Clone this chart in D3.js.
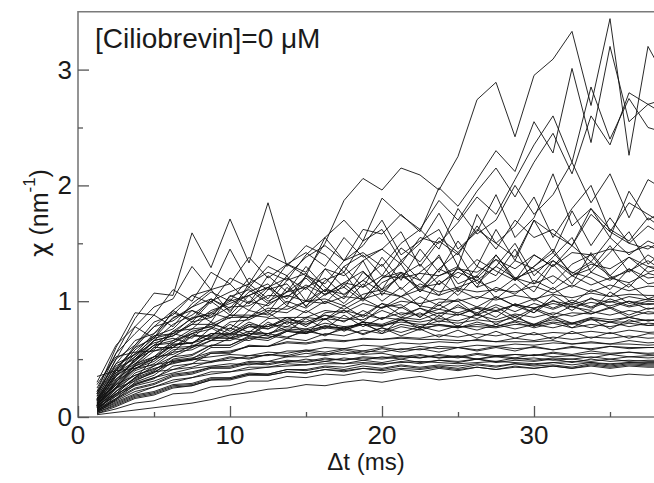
<!DOCTYPE html>
<html>
<head>
<meta charset="utf-8">
<script src="https://cdn.jsdelivr.net/npm/d3@7"></script>
<style>
  html, body { margin: 0; padding: 0; background: #fff; }
  svg { display: block; font-family: "Liberation Sans", Arial, Helvetica, sans-serif; }
</style>
</head>
<body>
<svg id="chart" width="654" height="483"></svg>
<script>
// Time lags (ms)
const dt = [1.25,2.5,3.75,5,6.25,7.5,8.75,10,11.25,12.5,13.75,15,16.25,17.5,18.75,20,21.25,22.5,23.75,25,26.25,27.5,28.75,30,31.25,32.5,33.75,35,36.25,37.5,38.75];

// High, strongly fluctuating trajectories
const highSeries = [
  [0.20,0.55,0.85,1.07,1.05,1.59,1.29,1.71,1.33,1.85,1.30,1.48,1.40,1.25,1.52,1.62,1.35,1.50,1.76,1.45,1.60,1.92,1.55,1.72,2.10,1.65,1.80,1.55,1.95,1.70,1.80],
  [0.12,0.35,0.55,0.72,0.85,0.95,1.08,1.00,1.20,1.10,1.32,1.25,1.50,1.87,2.06,1.96,2.15,2.09,1.96,2.25,2.74,2.89,2.42,2.95,3.09,3.33,2.69,3.44,2.26,3.20,2.90],
  [0.15,0.40,0.62,0.78,0.92,1.05,0.98,1.20,1.12,1.30,1.22,1.38,1.48,1.35,1.62,1.58,1.75,1.60,1.98,1.82,2.05,2.30,2.12,2.55,2.28,3.01,2.37,3.20,2.55,2.70,2.60],
  [0.10,0.30,0.50,0.66,0.80,0.88,1.00,1.08,1.15,1.25,1.18,1.40,1.55,1.70,1.52,1.89,1.74,1.62,1.87,1.70,1.95,2.15,1.90,2.20,2.45,2.10,2.60,2.35,2.80,2.70,2.75],
  [0.08,0.28,0.45,0.60,0.72,0.80,0.92,0.98,1.05,1.12,1.02,1.22,1.15,1.35,1.42,1.30,1.50,1.62,1.45,1.80,1.58,1.70,2.00,1.75,1.92,2.20,1.85,2.10,1.72,2.05,1.95],
  [0.18,0.50,0.78,0.95,1.02,1.30,1.10,1.45,1.15,1.40,1.32,1.22,1.55,1.35,1.48,1.70,1.40,1.52,1.62,1.30,1.75,1.50,1.65,1.90,1.55,1.80,2.00,1.60,1.85,1.75,1.65],
  [0.10,0.32,0.50,0.62,0.74,0.85,0.90,1.00,1.05,1.12,1.20,1.10,1.28,1.22,1.35,1.45,1.32,1.55,1.50,1.68,1.90,1.75,2.05,2.35,2.60,2.20,2.85,2.40,2.75,2.50,2.45],
  [0.22,0.60,0.90,0.88,1.10,1.00,1.25,1.15,1.38,1.20,1.32,1.42,1.30,1.55,1.38,1.45,1.60,1.30,1.52,1.40,1.65,1.45,1.70,1.55,1.62,1.48,1.75,1.60,1.50,1.45,1.55]
];

// Upper-middle trajectories (plateau ~1.0-1.8)
const upperSeries = [
  [0.15,0.42,0.60,0.78,0.83,0.95,1.02,0.92,1.08,1.15,0.98,1.12,1.20,1.05,1.18,1.32,1.10,1.25,1.38,1.15,1.22,1.40,1.18,1.30,1.45,1.22,1.28,1.48,1.25,1.40,1.30],
  [0.10,0.30,0.50,0.58,0.74,0.76,0.90,0.85,1.00,0.96,1.08,1.12,0.98,1.15,1.02,1.20,1.25,1.08,1.22,1.30,1.12,1.18,1.35,1.28,1.15,1.32,1.40,1.20,1.26,1.35,1.24],
  [0.25,0.55,0.72,0.88,0.78,0.98,1.10,0.90,1.15,1.02,1.22,1.00,1.28,1.12,1.35,1.05,1.25,1.18,1.40,1.08,1.30,1.22,1.45,1.15,1.35,1.25,1.20,1.10,1.28,1.15,1.18],
  [0.12,0.38,0.52,0.70,0.72,0.86,0.88,1.02,0.92,1.10,1.15,0.95,1.18,1.25,1.02,1.20,1.32,1.08,1.28,1.42,1.15,1.30,1.50,1.22,1.38,1.55,1.25,1.42,1.60,1.32,1.45],
  [0.08,0.25,0.42,0.50,0.64,0.72,0.76,0.88,0.86,0.98,1.05,1.00,1.10,1.06,1.18,1.08,1.22,1.12,1.15,1.25,1.18,1.30,1.20,1.26,1.35,1.22,1.32,1.28,1.38,1.25,1.30],
  [0.30,0.62,0.78,0.68,0.92,0.82,1.00,0.88,1.05,0.90,1.12,0.96,1.10,0.98,1.15,1.00,1.12,0.95,1.18,1.05,1.22,1.02,1.15,1.00,1.12,0.98,1.10,1.04,1.15,1.02,1.08],
  [0.14,0.40,0.60,0.68,0.86,0.92,0.82,1.05,0.98,1.12,0.96,1.22,1.08,1.30,1.12,1.38,1.18,1.45,1.25,1.52,1.30,1.62,1.35,1.70,1.42,1.78,1.48,1.72,1.50,1.65,1.55],
  [0.06,0.22,0.34,0.50,0.56,0.70,0.70,0.82,0.84,0.92,0.90,1.00,1.02,0.96,1.06,1.10,1.04,1.15,1.08,1.12,1.18,1.08,1.20,1.15,1.22,1.12,1.25,1.18,1.28,1.20,1.22],
  [0.20,0.50,0.62,0.82,0.88,1.05,1.10,1.15,0.98,1.22,1.08,1.30,1.12,1.02,1.25,1.10,1.35,1.18,1.05,1.30,1.12,1.40,1.20,1.08,1.32,1.15,1.42,1.22,1.12,1.30,1.24],
  [0.11,0.35,0.48,0.66,0.70,0.82,0.86,0.95,0.96,1.05,1.04,1.14,1.06,1.16,1.12,1.22,1.20,1.24,1.22,1.28,1.25,1.36,1.28,1.40,1.30,1.42,1.40,1.45,1.42,1.48,1.42],
  [0.14,0.36,0.58,0.70,0.76,0.92,0.86,1.04,1.10,0.98,1.18,1.24,1.08,1.30,1.40,1.22,1.46,1.34,1.55,1.42,1.62,1.50,1.38,1.70,1.58,1.48,1.80,1.62,1.52,1.72,1.60],
  [0.09,0.26,0.44,0.52,0.66,0.72,0.80,0.76,0.92,0.88,1.00,0.94,1.06,1.12,1.00,1.16,1.24,1.10,1.28,1.20,1.36,1.26,1.18,1.40,1.30,1.48,1.34,1.55,1.40,1.52,1.45],
  [0.16,0.46,0.66,0.72,0.90,0.84,1.02,0.94,1.12,1.00,1.08,1.20,1.05,1.16,1.26,1.10,1.22,1.32,1.14,1.28,1.20,1.36,1.18,1.30,1.42,1.24,1.34,1.22,1.38,1.30,1.28],
  [0.07,0.20,0.34,0.44,0.52,0.60,0.66,0.72,0.70,0.80,0.78,0.86,0.84,0.92,0.88,0.98,0.94,1.04,0.96,1.10,1.02,1.12,1.06,1.18,1.10,1.22,1.14,1.20,1.16,1.24,1.20]
];

// Middle trajectories (plateau ~0.7-1.1)
const middleSeries = [
  [0.10,0.28,0.44,0.50,0.62,0.64,0.72,0.72,0.80,0.78,0.84,0.82,0.88,0.85,0.84,0.92,0.86,0.94,0.89,0.95,0.90,0.97,0.91,0.98,0.93,0.99,0.94,1.00,0.95,0.98,0.97],
  [0.15,0.36,0.46,0.60,0.60,0.72,0.66,0.77,0.70,0.82,0.74,0.85,0.76,0.88,0.78,0.86,0.84,0.90,0.82,0.89,0.85,0.92,0.83,0.93,0.86,0.90,0.89,0.94,0.86,0.91,0.89],
  [0.05,0.18,0.32,0.38,0.50,0.53,0.62,0.62,0.70,0.68,0.75,0.73,0.79,0.76,0.82,0.79,0.84,0.82,0.85,0.83,0.88,0.84,0.89,0.86,0.90,0.87,0.91,0.88,0.92,0.89,0.90],
  [0.22,0.46,0.54,0.64,0.68,0.63,0.77,0.68,0.80,0.70,0.83,0.72,0.85,0.74,0.82,0.72,0.85,0.76,0.88,0.78,0.90,0.80,0.88,0.78,0.86,0.77,0.85,0.76,0.84,0.79,0.81],
  [0.08,0.24,0.40,0.46,0.58,0.60,0.70,0.70,0.78,0.78,0.86,0.86,0.92,0.90,0.98,0.94,1.00,0.98,1.02,1.00,1.04,1.01,1.05,1.02,1.06,1.03,1.07,1.04,1.06,1.05,1.05],
  [0.12,0.33,0.44,0.57,0.60,0.70,0.70,0.80,0.73,0.85,0.86,0.78,0.90,0.92,0.82,0.95,0.97,0.86,0.99,1.00,0.88,1.04,0.96,0.90,1.05,0.95,0.92,1.08,0.98,1.02,1.00],
  [0.04,0.15,0.28,0.33,0.44,0.46,0.55,0.55,0.62,0.61,0.68,0.66,0.72,0.70,0.75,0.72,0.78,0.75,0.80,0.77,0.82,0.78,0.83,0.80,0.84,0.81,0.85,0.82,0.86,0.83,0.85],
  [0.18,0.42,0.50,0.62,0.64,0.74,0.78,0.72,0.82,0.76,0.86,0.80,0.88,0.82,0.92,0.84,0.95,0.86,0.97,0.88,0.94,0.86,0.98,0.90,1.01,0.92,1.03,0.94,1.00,0.93,0.97],
  [0.09,0.26,0.42,0.48,0.60,0.61,0.69,0.68,0.74,0.72,0.78,0.76,0.81,0.78,0.80,0.78,0.84,0.78,0.83,0.81,0.84,0.82,0.86,0.80,0.87,0.81,0.86,0.84,0.86,0.83,0.85],
  [0.13,0.38,0.48,0.62,0.66,0.76,0.78,0.86,0.86,0.94,0.93,1.00,0.98,1.04,1.02,1.07,1.04,1.10,1.05,1.11,1.08,1.10,1.08,1.13,1.07,1.14,1.08,1.14,1.09,1.13,1.12],
  [0.06,0.20,0.34,0.40,0.52,0.54,0.62,0.62,0.69,0.68,0.74,0.72,0.77,0.75,0.80,0.74,0.80,0.77,0.79,0.77,0.80,0.78,0.82,0.77,0.81,0.77,0.80,0.78,0.81,0.79,0.80],
  [0.28,0.52,0.56,0.57,0.63,0.64,0.68,0.68,0.72,0.72,0.76,0.75,0.78,0.77,0.80,0.79,0.82,0.80,0.80,0.78,0.78,0.77,0.80,0.79,0.82,0.80,0.84,0.82,0.82,0.84,0.83],
  [0.10,0.30,0.46,0.52,0.62,0.64,0.72,0.71,0.78,0.76,0.82,0.80,0.85,0.83,0.88,0.85,0.90,0.88,0.93,0.90,0.95,0.92,0.97,0.94,0.98,0.95,0.99,0.96,1.00,0.97,0.99],
  [0.07,0.22,0.38,0.44,0.56,0.58,0.66,0.66,0.72,0.70,0.68,0.76,0.70,0.78,0.71,0.77,0.70,0.76,0.69,0.75,0.68,0.74,0.68,0.73,0.67,0.74,0.68,0.73,0.68,0.72,0.71],
  [0.16,0.40,0.52,0.66,0.70,0.80,0.80,0.88,0.88,0.86,0.96,0.90,1.00,0.93,1.02,0.94,1.04,0.96,0.93,1.02,0.95,1.04,0.96,1.02,0.94,1.01,0.95,1.02,0.96,1.00,0.99],
  [0.05,0.16,0.30,0.36,0.48,0.50,0.60,0.60,0.68,0.66,0.74,0.72,0.78,0.76,0.82,0.80,0.86,0.84,0.90,0.88,0.94,0.91,0.97,0.94,1.00,0.97,1.02,0.99,1.04,1.01,1.03],
  [0.20,0.44,0.54,0.68,0.72,0.68,0.82,0.74,0.86,0.90,0.80,0.92,0.84,0.96,0.86,0.98,0.88,0.94,0.86,0.97,0.88,0.95,0.86,0.94,0.88,0.96,0.89,0.95,0.88,0.94,0.92],
  [0.11,0.31,0.41,0.52,0.54,0.62,0.61,0.68,0.66,0.72,0.69,0.74,0.71,0.76,0.72,0.77,0.73,0.78,0.74,0.79,0.75,0.80,0.76,0.80,0.77,0.81,0.77,0.82,0.78,0.81,0.80]
];

// Low trajectories (plateau ~0.35-0.75)
const lowSeries = [
  [0.02,0.04,0.06,0.08,0.10,0.12,0.15,0.19,0.21,0.24,0.25,0.28,0.27,0.30,0.32,0.30,0.33,0.35,0.32,0.34,0.36,0.33,0.35,0.37,0.34,0.36,0.38,0.35,0.37,0.36,0.37],
  [0.04,0.10,0.17,0.20,0.26,0.27,0.32,0.32,0.36,0.36,0.39,0.38,0.41,0.40,0.42,0.41,0.44,0.42,0.44,0.42,0.45,0.43,0.46,0.44,0.45,0.43,0.46,0.44,0.46,0.45,0.45],
  [0.06,0.14,0.22,0.26,0.32,0.34,0.39,0.39,0.43,0.43,0.46,0.45,0.48,0.46,0.49,0.47,0.50,0.47,0.49,0.48,0.50,0.47,0.49,0.48,0.50,0.47,0.50,0.48,0.49,0.48,0.48],
  [0.08,0.18,0.27,0.31,0.37,0.39,0.43,0.43,0.47,0.46,0.49,0.48,0.51,0.49,0.52,0.51,0.53,0.51,0.54,0.52,0.55,0.53,0.54,0.53,0.56,0.54,0.57,0.55,0.56,0.55,0.56],
  [0.05,0.12,0.19,0.22,0.28,0.29,0.34,0.34,0.38,0.37,0.41,0.40,0.43,0.41,0.44,0.42,0.45,0.43,0.45,0.44,0.46,0.44,0.46,0.45,0.47,0.45,0.47,0.45,0.47,0.46,0.46],
  [0.12,0.25,0.31,0.39,0.41,0.46,0.47,0.51,0.51,0.54,0.53,0.57,0.54,0.58,0.55,0.59,0.56,0.59,0.56,0.60,0.57,0.60,0.57,0.61,0.58,0.61,0.58,0.61,0.59,0.60,0.60],
  [0.03,0.09,0.16,0.19,0.25,0.27,0.32,0.33,0.37,0.37,0.41,0.41,0.44,0.43,0.46,0.45,0.48,0.46,0.49,0.47,0.50,0.48,0.51,0.49,0.51,0.50,0.52,0.50,0.52,0.51,0.52],
  [0.10,0.20,0.28,0.34,0.38,0.42,0.44,0.46,0.45,0.48,0.47,0.50,0.48,0.51,0.49,0.52,0.50,0.53,0.51,0.52,0.50,0.53,0.51,0.54,0.52,0.53,0.51,0.54,0.52,0.53,0.53],
  [0.07,0.16,0.25,0.29,0.36,0.38,0.43,0.44,0.48,0.48,0.52,0.52,0.55,0.54,0.57,0.56,0.59,0.58,0.61,0.60,0.62,0.61,0.63,0.62,0.64,0.63,0.65,0.63,0.66,0.64,0.65],
  [0.14,0.28,0.36,0.42,0.46,0.50,0.48,0.52,0.50,0.54,0.52,0.55,0.53,0.56,0.54,0.55,0.52,0.54,0.51,0.53,0.50,0.52,0.50,0.51,0.49,0.50,0.48,0.50,0.48,0.49,0.49],
  [0.04,0.11,0.18,0.21,0.27,0.28,0.33,0.33,0.37,0.36,0.39,0.38,0.41,0.39,0.42,0.40,0.42,0.41,0.43,0.41,0.43,0.41,0.44,0.42,0.44,0.42,0.44,0.42,0.44,0.43,0.43],
  [0.09,0.22,0.33,0.39,0.47,0.49,0.55,0.56,0.61,0.61,0.65,0.64,0.67,0.66,0.67,0.67,0.68,0.67,0.67,0.66,0.66,0.65,0.65,0.65,0.66,0.63,0.64,0.63,0.63,0.62,0.63],
  [0.05,0.13,0.20,0.26,0.30,0.34,0.37,0.39,0.41,0.43,0.44,0.45,0.46,0.46,0.47,0.46,0.47,0.48,0.47,0.46,0.47,0.48,0.47,0.46,0.47,0.48,0.47,0.46,0.47,0.47,0.47],
  [0.11,0.25,0.36,0.41,0.49,0.51,0.56,0.57,0.61,0.61,0.64,0.63,0.66,0.65,0.68,0.67,0.69,0.68,0.71,0.69,0.72,0.70,0.73,0.71,0.73,0.72,0.74,0.72,0.75,0.73,0.74],
  [0.03,0.07,0.12,0.14,0.20,0.21,0.26,0.27,0.31,0.31,0.35,0.34,0.37,0.36,0.39,0.38,0.41,0.39,0.42,0.40,0.43,0.41,0.43,0.42,0.44,0.42,0.45,0.43,0.45,0.44,0.44],
  [0.35,0.40,0.42,0.45,0.48,0.50,0.52,0.54,0.53,0.56,0.55,0.58,0.56,0.59,0.57,0.60,0.58,0.61,0.59,0.60,0.58,0.61,0.59,0.60,0.58,0.60,0.59,0.61,0.60,0.60,0.60],
  [0.06,0.15,0.24,0.28,0.35,0.37,0.42,0.42,0.46,0.45,0.48,0.47,0.50,0.49,0.51,0.50,0.52,0.51,0.53,0.51,0.54,0.52,0.54,0.53,0.55,0.53,0.55,0.54,0.56,0.54,0.55],
  [0.08,0.19,0.29,0.34,0.41,0.43,0.48,0.49,0.53,0.53,0.57,0.57,0.60,0.59,0.62,0.61,0.64,0.63,0.65,0.64,0.67,0.65,0.68,0.66,0.69,0.67,0.69,0.68,0.70,0.68,0.69]
];

// Axis ticks
const xMajorTicks = [0, 10, 20, 30];
const xMinorTicks = [5, 15, 25, 35];
const yMajorTicks = [0, 1, 2, 3];
const yMinorTicks = [0.5, 1.5, 2.5];
const legendText = "[Ciliobrevin]=0 \u03bcM";

const allSeries = [].concat(lowSeries, middleSeries, upperSeries, highSeries);

const svg = d3.select("#chart");
const plotLeft = 78, plotBottom = 417, plotTop = 11.7;
const x = d3.scaleLinear().domain([0, 38]).range([plotLeft, plotLeft + 38 * 15.2]);
const y = d3.scaleLinear().domain([0, 3.5]).range([plotBottom, plotTop]);

svg.append("defs").append("clipPath").attr("id", "clip")
  .append("rect").attr("x", plotLeft).attr("y", plotTop).attr("width", 654 - plotLeft).attr("height", plotBottom - plotTop);

const line = d3.line().x((d, i) => x(dt[i])).y(d => y(d));

svg.append("g").attr("clip-path", "url(#clip)")
  .selectAll("path").data(allSeries).join("path")
  .attr("d", line)
  .attr("fill", "none")
  .attr("stroke", "#111")
  .attr("stroke-width", 0.9)
  .attr("stroke-linejoin", "miter");

const axisColor = "#7a7a7a";

// Frame
svg.append("path")
  .attr("d", `M${x(38)},${y(3.5)}H${plotLeft}V${plotBottom}H${x(38)}`)
  .attr("fill", "none").attr("stroke", axisColor).attr("stroke-width", 1.6);

// X axis (inward ticks)
const xAxisMajor = d3.axisTop(x).tickValues(xMajorTicks).tickSize(11).tickFormat("");
const xAxisMinor = d3.axisTop(x).tickValues(xMinorTicks).tickSize(5).tickFormat("");
[xAxisMajor, xAxisMinor].forEach(ax => {
  const g = svg.append("g").attr("transform", `translate(0,${plotBottom})`).call(ax);
  g.select(".domain").remove();
  g.selectAll("line").attr("stroke", "#555").attr("stroke-width", 1.3);
});
svg.append("g").selectAll("text").data(xMajorTicks).join("text")
  .attr("x", d => x(d)).attr("y", 444)
  .attr("text-anchor", "middle")
  .attr("font-size", 26).attr("fill", "#1a1a1a")
  .text(d => d);

// Y axis (inward ticks)
const yAxisMajor = d3.axisRight(y).tickValues(yMajorTicks).tickSize(11).tickFormat("");
const yAxisMinor = d3.axisRight(y).tickValues(yMinorTicks).tickSize(5).tickFormat("");
[yAxisMajor, yAxisMinor].forEach(ax => {
  const g = svg.append("g").attr("transform", `translate(${plotLeft},0)`).call(ax);
  g.select(".domain").remove();
  g.selectAll("line").attr("stroke", "#555").attr("stroke-width", 1.3);
});
svg.append("g").selectAll("text").data(yMajorTicks).join("text")
  .attr("x", 72).attr("y", d => y(d) + 9)
  .attr("text-anchor", "end")
  .attr("font-size", 26).attr("fill", "#1a1a1a")
  .text(d => d);

// Axis titles
svg.append("text")
  .attr("x", 366).attr("y", 470)
  .attr("text-anchor", "middle")
  .attr("font-size", 24).attr("fill", "#1a1a1a")
  .text("\u0394t (ms)");

const yt = svg.append("text")
  .attr("transform", "translate(48,213) rotate(-90)")
  .attr("text-anchor", "middle")
  .attr("font-size", 25).attr("fill", "#1a1a1a");
yt.append("tspan").attr("font-family", "DejaVu Sans").text("\u03c7");
yt.append("tspan").text(" (nm");
yt.append("tspan").attr("font-size", 17).attr("dy", -13).text("-1");
yt.append("tspan").attr("dy", 13).text(")");

// Legend text
svg.append("text")
  .attr("x", 95).attr("y", 48)
  .attr("font-size", 28).attr("fill", "#1a1a1a")
  .text(legendText);
</script>
</body>
</html>
